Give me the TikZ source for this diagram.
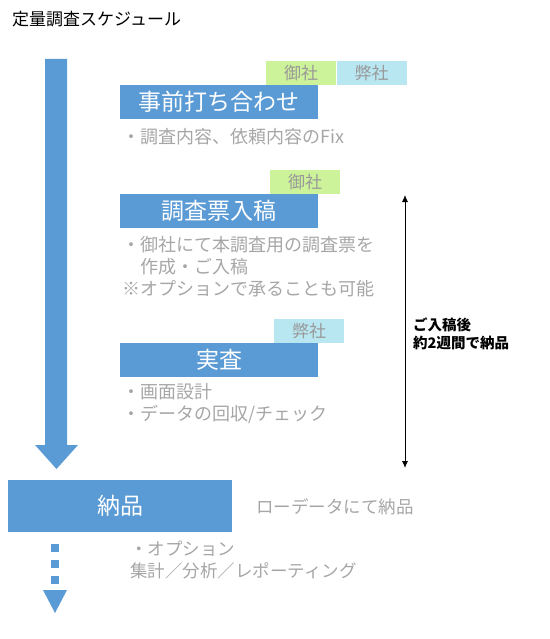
\documentclass[tikz,border=0pt]{standalone}
\usepackage{fontspec}
\setmainfont{Noto Sans CJK JP}
\usepackage{tikz}
\usetikzlibrary{arrows.meta,positioning}

\definecolor{flowblue}{HTML}{5B9BD5}
\definecolor{owngreen}{HTML}{CCF29A}
\definecolor{ourcyan}{HTML}{B8E7F2}
\definecolor{notegray}{HTML}{A6A6A6}
\definecolor{taggray}{HTML}{999999}

\tikzset{
  stagebox/.style={fill=flowblue,text=white,inner sep=0pt,minimum width=198pt,
    minimum height=34pt,font=\fontsize{23}{25}\selectfont},
  tagbox/.style={inner sep=0pt,minimum width=70pt,minimum height=24pt,
    text=taggray,font=\fontsize{17}{20}\selectfont},
  notetext/.style={text=notegray,inner sep=0pt,align=left,
    font=\fontsize{18}{22}\selectfont}
}

\begin{document}
\begin{tikzpicture}[x=1pt,y=-1pt,>=Latex]
  \useasboundingbox (0,0) rectangle (549,639);
  \node[anchor=west,inner sep=0pt] (title) at (12,19) {\fontsize{17}{20}\selectfont 定量調査スケジュール};

  % main flow arrow
  \fill[flowblue] (45,59) -- (67,59) -- (67,445) -- (78,445) -- (56.5,469)
    -- (35,445) -- (45,445) -- cycle;

  % stages
  \node[stagebox,anchor=north west] (mae) at (120,85) {事前打ち合わせ};
  \node[tagbox,fill=owngreen,anchor=south west] (mae-own) at (266,85) {御社};
  \node[tagbox,fill=ourcyan,anchor=south west] (mae-our) at (mae-own.south east) {弊社};
  \node[notetext,anchor=west] (mae-note) at (122,137) {・調査内容、依頼内容のFix};

  \node[stagebox,anchor=north west] (chosa) at (120,194) {調査票入稿};
  \node[tagbox,fill=owngreen,anchor=south west] (chosa-own) at (270,194) {御社};
  \node[notetext,anchor=west] (chosa-note) at (122,267)
    {・御社にて本調査用の調査票を\\　作成・ご入稿\\※オプションで承ることも可能};

  \node[stagebox,anchor=north west] (jissa) at (120,343) {実査};
  \node[tagbox,fill=ourcyan,anchor=south west] (jissa-our) at (274,343) {弊社};
  \node[notetext,anchor=west] (jissa-note) at (122,404)
    {・画面設計\\・データの回収/チェック};

  % delivery
  \node[stagebox,minimum width=224pt,minimum height=52pt,anchor=north west] (nohin) at (8,480) {納品};
  \node[notetext,anchor=west,font=\fontsize{17.5}{22}\selectfont] (nohin-note) at (256,507) {ローデータにて納品};
  \node[notetext,anchor=west,font=\fontsize{17.5}{22}\selectfont] (option) at (130,559.5)
    {・オプション\\集計／分析／レポーティング};

  % dotted continuation
  \foreach \y in {544,560,576} \fill[flowblue] (51,\y) rectangle (59,\y+8);
  \fill[flowblue] (43,590) -- (67,590) -- (55,613) -- cycle;

  % period
  \coordinate (span-top) at (405,195);
  \coordinate (span-bot) at (405,468);
  \draw[{Latex[length=7pt,width=6pt]}-{Latex[length=7pt,width=6pt]},line width=0.9pt] (span-top) -- (span-bot);
  \node[anchor=west,inner sep=0pt,align=left,font=\fontsize{14.5}{18}\selectfont\bfseries] (span-lab)
    at (413,334) {ご入稿後\\約2週間で納品};
\end{tikzpicture}
\end{document}
